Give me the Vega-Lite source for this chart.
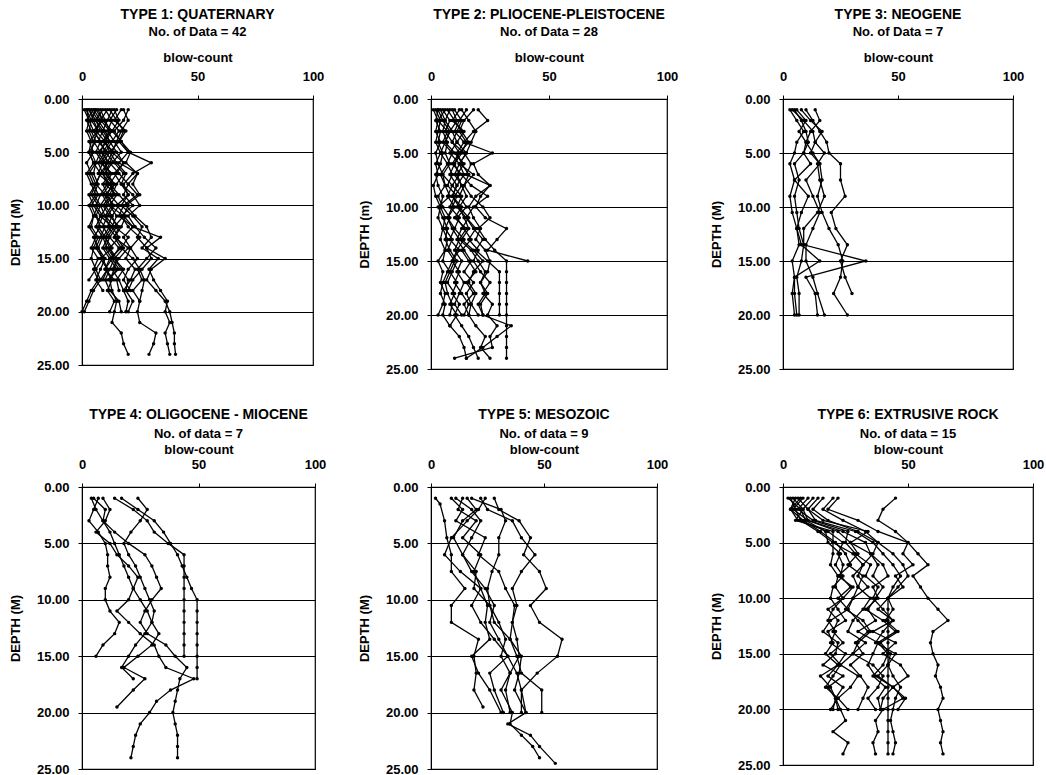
{
"$schema":"https://vega.github.io/schema/vega-lite/v6.json",
"background":"white",
"padding":{"left":8,"top":7,"right":5,"bottom":0},
"config":{
"view":{"stroke":"black","strokeWidth":1.2},
"font":"Liberation Sans",
"axis":{"domainColor":"black","tickColor":"black","tickSize":4,"labelFont":"Liberation Sans","labelFontWeight":"bold","labelFontSize":13,"labelColor":"black","titleFont":"Liberation Sans","titleFontWeight":"bold","titleFontSize":13,"titleColor":"black","labelFlush":false,"labelOverlap":false},
"title":{"font":"Liberation Sans","fontSize":14,"fontWeight":"bold","color":"black","subtitleFont":"Liberation Sans","subtitleFontSize":13,"subtitleFontWeight":"bold","subtitleColor":"black","anchor":"middle"},
"line":{"color":"black","strokeWidth":1.3}
},
"datasets":{
"p1":[
{"b":1,"d":1,"n":5},{"b":1,"d":2,"n":8},{"b":1,"d":3,"n":6},{"b":1,"d":4,"n":10},{"b":1,"d":5,"n":12},{"b":1,"d":6,"n":9},{"b":1,"d":7,"n":11},{"b":1,"d":8,"n":14},{"b":1,"d":9,"n":10},{"b":1,"d":10,"n":12},{"b":1,"d":11,"n":15},{"b":1,"d":12,"n":13},{"b":1,"d":13,"n":16},{"b":1,"d":14,"n":12},{"b":1,"d":15,"n":14},{"b":1,"d":16,"n":18},{"b":1,"d":17,"n":15},{"b":1,"d":18,"n":16},
{"b":2,"d":1,"n":2},{"b":2,"d":2,"n":4},{"b":2,"d":3,"n":3},{"b":2,"d":4,"n":5},{"b":2,"d":5,"n":4},{"b":2,"d":6,"n":6},{"b":2,"d":7,"n":3},{"b":2,"d":8,"n":5},{"b":2,"d":9,"n":7},{"b":2,"d":10,"n":4},{"b":2,"d":11,"n":6},{"b":2,"d":12,"n":8},{"b":2,"d":13,"n":5},{"b":2,"d":14,"n":7},{"b":2,"d":15,"n":9},{"b":2,"d":16,"n":6},{"b":2,"d":17,"n":8},{"b":2,"d":18,"n":5},{"b":2,"d":19,"n":3},{"b":2,"d":20,"n":1},
{"b":3,"d":1,"n":12},{"b":3,"d":2,"n":15},{"b":3,"d":3,"n":18},{"b":3,"d":4,"n":16},{"b":3,"d":5,"n":20},{"b":3,"d":6,"n":30},{"b":3,"d":7,"n":22},{"b":3,"d":8,"n":18},{"b":3,"d":9,"n":20},{"b":3,"d":10,"n":17},{"b":3,"d":11,"n":22},{"b":3,"d":12,"n":26},{"b":3,"d":13,"n":24},{"b":3,"d":14,"n":28},{"b":3,"d":15,"n":30},{"b":3,"d":16,"n":26},{"b":3,"d":17,"n":22},{"b":3,"d":18,"n":20},
{"b":4,"d":1,"n":8},{"b":4,"d":2,"n":10},{"b":4,"d":3,"n":12},{"b":4,"d":4,"n":9},{"b":4,"d":5,"n":14},{"b":4,"d":6,"n":12},{"b":4,"d":7,"n":16},{"b":4,"d":8,"n":20},{"b":4,"d":9,"n":24},{"b":4,"d":10,"n":18},{"b":4,"d":11,"n":16},{"b":4,"d":12,"n":22},{"b":4,"d":13,"n":34},{"b":4,"d":14,"n":28},{"b":4,"d":15,"n":36},{"b":4,"d":16,"n":30},{"b":4,"d":17,"n":28},{"b":4,"d":18,"n":32},{"b":4,"d":19,"n":36},{"b":4,"d":20,"n":38},{"b":4,"d":21,"n":39},{"b":4,"d":22,"n":40},{"b":4,"d":23,"n":40},{"b":4,"d":24,"n":40.5},
{"b":5,"d":1,"n":20},{"b":5,"d":2,"n":18},{"b":5,"d":3,"n":14},{"b":5,"d":4,"n":17},{"b":5,"d":5,"n":20},{"b":5,"d":6,"n":16},{"b":5,"d":7,"n":24},{"b":5,"d":8,"n":22},{"b":5,"d":9,"n":25},{"b":5,"d":10,"n":19},{"b":5,"d":11,"n":23},{"b":5,"d":12,"n":28},{"b":5,"d":13,"n":30},{"b":5,"d":14,"n":26},{"b":5,"d":15,"n":33},{"b":5,"d":16,"n":29},{"b":5,"d":17,"n":31},{"b":5,"d":18,"n":34},{"b":5,"d":19,"n":37},{"b":5,"d":20,"n":36},{"b":5,"d":21,"n":38},{"b":5,"d":22,"n":36},{"b":5,"d":23,"n":37},{"b":5,"d":24,"n":38},
{"b":6,"d":1,"n":3},{"b":6,"d":2,"n":6},{"b":6,"d":3,"n":9},{"b":6,"d":4,"n":7},{"b":6,"d":5,"n":11},{"b":6,"d":6,"n":8},{"b":6,"d":7,"n":13},{"b":6,"d":8,"n":10},{"b":6,"d":9,"n":15},{"b":6,"d":10,"n":12},{"b":6,"d":11,"n":18},{"b":6,"d":12,"n":14},{"b":6,"d":13,"n":20},{"b":6,"d":14,"n":17},{"b":6,"d":15,"n":22},{"b":6,"d":16,"n":25},{"b":6,"d":17,"n":27},{"b":6,"d":18,"n":26},{"b":6,"d":19,"n":25},{"b":6,"d":20,"n":24},{"b":6,"d":21,"n":25},{"b":6,"d":22,"n":32},{"b":6,"d":23,"n":31},{"b":6,"d":24,"n":29},
{"b":7,"d":1,"n":1},{"b":7,"d":2,"n":3},{"b":7,"d":3,"n":5},{"b":7,"d":4,"n":8},{"b":7,"d":5,"n":6},{"b":7,"d":6,"n":9},{"b":7,"d":7,"n":7},{"b":7,"d":8,"n":12},{"b":7,"d":9,"n":9},{"b":7,"d":10,"n":11},{"b":7,"d":11,"n":8},{"b":7,"d":12,"n":13},{"b":7,"d":13,"n":10},{"b":7,"d":14,"n":12},{"b":7,"d":15,"n":15},{"b":7,"d":16,"n":14},{"b":7,"d":17,"n":12},{"b":7,"d":18,"n":13},{"b":7,"d":19,"n":15},{"b":7,"d":20,"n":14},{"b":7,"d":21,"n":13},{"b":7,"d":22,"n":17},{"b":7,"d":23,"n":18},{"b":7,"d":24,"n":20},
{"b":8,"d":1,"n":6},{"b":8,"d":2,"n":4},{"b":8,"d":3,"n":7},{"b":8,"d":4,"n":3},{"b":8,"d":5,"n":5},{"b":8,"d":6,"n":2},{"b":8,"d":7,"n":4},{"b":8,"d":8,"n":6},{"b":8,"d":9,"n":3},{"b":8,"d":10,"n":5},{"b":8,"d":11,"n":8},{"b":8,"d":12,"n":6},{"b":8,"d":13,"n":9},{"b":8,"d":14,"n":7},{"b":8,"d":15,"n":10},{"b":8,"d":16,"n":8},{"b":8,"d":17,"n":6},{"b":8,"d":18,"n":9},
{"b":9,"d":1,"n":10},{"b":9,"d":2,"n":13},{"b":9,"d":3,"n":11},{"b":9,"d":4,"n":14},{"b":9,"d":5,"n":17},{"b":9,"d":6,"n":13},{"b":9,"d":7,"n":10},{"b":9,"d":8,"n":14},{"b":9,"d":9,"n":12},{"b":9,"d":10,"n":16},{"b":9,"d":11,"n":13},{"b":9,"d":12,"n":11},{"b":9,"d":13,"n":15},{"b":9,"d":14,"n":18},{"b":9,"d":15,"n":14},{"b":9,"d":16,"n":17},{"b":9,"d":17,"n":20},{"b":9,"d":18,"n":19},{"b":9,"d":19,"n":22},{"b":9,"d":20,"n":20},
{"b":10,"d":1,"n":15},{"b":10,"d":2,"n":12},{"b":10,"d":3,"n":16},{"b":10,"d":4,"n":13},{"b":10,"d":5,"n":10},{"b":10,"d":6,"n":14},{"b":10,"d":7,"n":18},{"b":10,"d":8,"n":15},{"b":10,"d":9,"n":13},{"b":10,"d":10,"n":9},{"b":10,"d":11,"n":12},{"b":10,"d":12,"n":16},{"b":10,"d":13,"n":14},{"b":10,"d":14,"n":17},{"b":10,"d":15,"n":12},{"b":10,"d":16,"n":10},{"b":10,"d":17,"n":13},{"b":10,"d":18,"n":11},{"b":10,"d":19,"n":14},{"b":10,"d":20,"n":12},
{"b":11,"d":1,"n":4},{"b":11,"d":2,"n":7},{"b":11,"d":3,"n":10},{"b":11,"d":4,"n":12},{"b":11,"d":5,"n":9},{"b":11,"d":6,"n":11},{"b":11,"d":7,"n":8},{"b":11,"d":8,"n":6},{"b":11,"d":9,"n":10},{"b":11,"d":10,"n":14},{"b":11,"d":11,"n":11},{"b":11,"d":12,"n":9},{"b":11,"d":13,"n":12},{"b":11,"d":14,"n":10},{"b":11,"d":15,"n":13},{"b":11,"d":16,"n":16},{"b":11,"d":17,"n":11},
{"b":12,"d":1,"n":18},{"b":12,"d":2,"n":20},{"b":12,"d":3,"n":17},{"b":12,"d":4,"n":15},{"b":12,"d":5,"n":13},{"b":12,"d":6,"n":18},{"b":12,"d":7,"n":15},{"b":12,"d":8,"n":12},{"b":12,"d":9,"n":16},{"b":12,"d":10,"n":20},{"b":12,"d":11,"n":18},{"b":12,"d":12,"n":22},{"b":12,"d":13,"n":18},{"b":12,"d":14,"n":21},{"b":12,"d":15,"n":24},{"b":12,"d":16,"n":20},{"b":12,"d":17,"n":18},{"b":12,"d":18,"n":21},
{"b":13,"d":1,"n":7},{"b":13,"d":2,"n":9},{"b":13,"d":3,"n":5},{"b":13,"d":4,"n":8},{"b":13,"d":5,"n":10},{"b":13,"d":6,"n":7},{"b":13,"d":7,"n":9},{"b":13,"d":8,"n":11},{"b":13,"d":9,"n":8},{"b":13,"d":10,"n":6},{"b":13,"d":11,"n":9},{"b":13,"d":12,"n":7},{"b":13,"d":13,"n":10},{"b":13,"d":14,"n":13},{"b":13,"d":15,"n":8},{"b":13,"d":16,"n":11},{"b":13,"d":17,"n":9},
{"b":14,"d":1,"n":2},{"b":14,"d":2,"n":3},{"b":14,"d":3,"n":2},{"b":14,"d":4,"n":4},{"b":14,"d":5,"n":3},{"b":14,"d":6,"n":5},{"b":14,"d":7,"n":2},{"b":14,"d":8,"n":4},{"b":14,"d":9,"n":6},{"b":14,"d":10,"n":3},{"b":14,"d":11,"n":5},{"b":14,"d":12,"n":4},{"b":14,"d":13,"n":7},{"b":14,"d":14,"n":5},{"b":14,"d":15,"n":4},{"b":14,"d":16,"n":6},{"b":14,"d":17,"n":3},
{"b":15,"d":1,"n":13},{"b":15,"d":2,"n":11},{"b":15,"d":3,"n":9},{"b":15,"d":4,"n":12},{"b":15,"d":5,"n":15},{"b":15,"d":6,"n":18},{"b":15,"d":7,"n":14},{"b":15,"d":8,"n":17},{"b":15,"d":9,"n":20},{"b":15,"d":10,"n":15},{"b":15,"d":11,"n":19},{"b":15,"d":12,"n":17},{"b":15,"d":13,"n":14},{"b":15,"d":14,"n":20},{"b":15,"d":15,"n":16},{"b":15,"d":16,"n":13},{"b":15,"d":17,"n":16},{"b":15,"d":18,"n":18},
{"b":16,"d":1,"n":9},{"b":16,"d":2,"n":6},{"b":16,"d":3,"n":8},{"b":16,"d":4,"n":11},{"b":16,"d":5,"n":7},{"b":16,"d":6,"n":10},{"b":16,"d":7,"n":12},{"b":16,"d":8,"n":9},{"b":16,"d":9,"n":11},{"b":16,"d":10,"n":13},{"b":16,"d":11,"n":10},{"b":16,"d":12,"n":14},{"b":16,"d":13,"n":11},{"b":16,"d":14,"n":9},{"b":16,"d":15,"n":12},{"b":16,"d":16,"n":15},{"b":16,"d":17,"n":12},
{"b":17,"d":1,"n":14},{"b":17,"d":2,"n":16},{"b":17,"d":3,"n":13},{"b":17,"d":4,"n":17},{"b":17,"d":5,"n":21},{"b":17,"d":6,"n":19},{"b":17,"d":7,"n":24},{"b":17,"d":8,"n":20},{"b":17,"d":9,"n":18},{"b":17,"d":10,"n":22},{"b":17,"d":11,"n":17},{"b":17,"d":12,"n":20},{"b":17,"d":13,"n":25},{"b":17,"d":14,"n":21},{"b":17,"d":15,"n":19},{"b":17,"d":16,"n":23},{"b":17,"d":17,"n":21},{"b":17,"d":18,"n":18},{"b":17,"d":19,"n":20},{"b":17,"d":20,"n":19},
{"b":18,"d":1,"n":5},{"b":18,"d":2,"n":2},{"b":18,"d":3,"n":4},{"b":18,"d":4,"n":6},{"b":18,"d":5,"n":3},{"b":18,"d":6,"n":5},{"b":18,"d":7,"n":8},{"b":18,"d":8,"n":6},{"b":18,"d":9,"n":4},{"b":18,"d":10,"n":7},{"b":18,"d":11,"n":5},{"b":18,"d":12,"n":3},{"b":18,"d":13,"n":6},{"b":18,"d":14,"n":4},{"b":18,"d":15,"n":7},{"b":18,"d":16,"n":5},{"b":18,"d":17,"n":7},{"b":18,"d":18,"n":4},{"b":18,"d":19,"n":2},{"b":18,"d":20,"n":0},
{"b":19,"d":1,"n":11},{"b":19,"d":2,"n":8},{"b":19,"d":3,"n":12},{"b":19,"d":4,"n":10},{"b":19,"d":5,"n":13},{"b":19,"d":6,"n":11},{"b":19,"d":7,"n":9},{"b":19,"d":8,"n":12},{"b":19,"d":9,"n":14},{"b":19,"d":10,"n":10},{"b":19,"d":11,"n":13},{"b":19,"d":12,"n":15},{"b":19,"d":13,"n":12},{"b":19,"d":14,"n":16},{"b":19,"d":15,"n":13},{"b":19,"d":16,"n":10},{"b":19,"d":17,"n":14},
{"b":20,"d":1,"n":17},{"b":20,"d":2,"n":14},{"b":20,"d":3,"n":19},{"b":20,"d":4,"n":16},{"b":20,"d":5,"n":12},{"b":20,"d":6,"n":15},{"b":20,"d":7,"n":19},{"b":20,"d":8,"n":17},{"b":20,"d":9,"n":22},{"b":20,"d":10,"n":25},{"b":20,"d":11,"n":20},{"b":20,"d":12,"n":23},{"b":20,"d":13,"n":27},{"b":20,"d":14,"n":32},{"b":20,"d":15,"n":28},{"b":20,"d":16,"n":24},{"b":20,"d":17,"n":26},{"b":20,"d":18,"n":22},{"b":20,"d":19,"n":25},
{"b":21,"d":1,"n":6},{"b":21,"d":2,"n":9},{"b":21,"d":3,"n":13},{"b":21,"d":4,"n":10},{"b":21,"d":5,"n":8},{"b":21,"d":6,"n":12},{"b":21,"d":7,"n":10},{"b":21,"d":8,"n":13},{"b":21,"d":9,"n":11},{"b":21,"d":10,"n":8},{"b":21,"d":11,"n":10},{"b":21,"d":12,"n":12},{"b":21,"d":13,"n":9},{"b":21,"d":14,"n":11},{"b":21,"d":15,"n":14},{"b":21,"d":16,"n":12},{"b":21,"d":17,"n":10},{"b":21,"d":18,"n":12},{"b":21,"d":19,"n":16},{"b":21,"d":20,"n":17},
{"b":22,"d":1,"n":3},{"b":22,"d":2,"n":5},{"b":22,"d":3,"n":7},{"b":22,"d":4,"n":5},{"b":22,"d":5,"n":8},{"b":22,"d":6,"n":6},{"b":22,"d":7,"n":5},{"b":22,"d":8,"n":7},{"b":22,"d":9,"n":5},{"b":22,"d":10,"n":8},{"b":22,"d":11,"n":6},{"b":22,"d":12,"n":10},{"b":22,"d":13,"n":8},{"b":22,"d":14,"n":6},{"b":22,"d":15,"n":9},{"b":22,"d":16,"n":11},{"b":22,"d":17,"n":8}
],
"p2":[
{"b":1,"d":1,"n":3},{"b":1,"d":2,"n":2},{"b":1,"d":3,"n":4},{"b":1,"d":4,"n":3},{"b":1,"d":5,"n":5},{"b":1,"d":6,"n":4},{"b":1,"d":7,"n":2},{"b":1,"d":8,"n":3},{"b":1,"d":9,"n":5},{"b":1,"d":10,"n":4},{"b":1,"d":11,"n":6},{"b":1,"d":12,"n":5},{"b":1,"d":13,"n":7},{"b":1,"d":14,"n":6},{"b":1,"d":15,"n":5},{"b":1,"d":16,"n":8},{"b":1,"d":17,"n":6},{"b":1,"d":18,"n":7},{"b":1,"d":19,"n":9},{"b":1,"d":20,"n":8},
{"b":2,"d":1,"n":8},{"b":2,"d":2,"n":6},{"b":2,"d":3,"n":9},{"b":2,"d":4,"n":11},{"b":2,"d":5,"n":8},{"b":2,"d":6,"n":12},{"b":2,"d":7,"n":10},{"b":2,"d":8,"n":13},{"b":2,"d":9,"n":15},{"b":2,"d":10,"n":12},{"b":2,"d":11,"n":14},{"b":2,"d":12,"n":16},{"b":2,"d":13,"n":13},{"b":2,"d":14,"n":18},{"b":2,"d":15,"n":22},{"b":2,"d":16,"n":18},{"b":2,"d":17,"n":16},{"b":2,"d":18,"n":19},{"b":2,"d":19,"n":17},{"b":2,"d":20,"n":16},
{"b":3,"d":1,"n":15},{"b":3,"d":2,"n":12},{"b":3,"d":3,"n":10},{"b":3,"d":4,"n":14},{"b":3,"d":5,"n":26},{"b":3,"d":6,"n":18},{"b":3,"d":7,"n":20},{"b":3,"d":8,"n":25},{"b":3,"d":9,"n":21},{"b":3,"d":10,"n":19},{"b":3,"d":11,"n":23},{"b":3,"d":12,"n":32},{"b":3,"d":13,"n":28},{"b":3,"d":14,"n":24},{"b":3,"d":15,"n":41},
{"b":4,"d":1,"n":5},{"b":4,"d":2,"n":8},{"b":4,"d":3,"n":6},{"b":4,"d":4,"n":9},{"b":4,"d":5,"n":12},{"b":4,"d":6,"n":10},{"b":4,"d":7,"n":8},{"b":4,"d":8,"n":11},{"b":4,"d":9,"n":9},{"b":4,"d":10,"n":13},{"b":4,"d":11,"n":10},{"b":4,"d":12,"n":15},{"b":4,"d":13,"n":12},{"b":4,"d":14,"n":17},{"b":4,"d":15,"n":20},{"b":4,"d":16,"n":23},{"b":4,"d":17,"n":21},{"b":4,"d":18,"n":24},{"b":4,"d":19,"n":21},{"b":4,"d":20,"n":22},{"b":4,"d":21,"n":34},{"b":4,"d":22,"n":28},{"b":4,"d":23,"n":22},{"b":4,"d":24,"n":15},
{"b":5,"d":1,"n":2},{"b":5,"d":2,"n":4},{"b":5,"d":3,"n":3},{"b":5,"d":4,"n":2},{"b":5,"d":5,"n":4},{"b":5,"d":6,"n":2},{"b":5,"d":7,"n":3},{"b":5,"d":8,"n":1},{"b":5,"d":9,"n":2},{"b":5,"d":10,"n":4},{"b":5,"d":11,"n":3},{"b":5,"d":12,"n":5},{"b":5,"d":13,"n":4},{"b":5,"d":14,"n":6},{"b":5,"d":15,"n":3},{"b":5,"d":16,"n":5},{"b":5,"d":17,"n":4},{"b":5,"d":18,"n":6},{"b":5,"d":19,"n":5},{"b":5,"d":20,"n":3},
{"b":6,"d":1,"n":10},{"b":6,"d":2,"n":13},{"b":6,"d":3,"n":11},{"b":6,"d":4,"n":9},{"b":6,"d":5,"n":14},{"b":6,"d":6,"n":17},{"b":6,"d":7,"n":15},{"b":6,"d":8,"n":25},{"b":6,"d":9,"n":19},{"b":6,"d":10,"n":16},{"b":6,"d":11,"n":18},{"b":6,"d":12,"n":21},{"b":6,"d":13,"n":19},{"b":6,"d":14,"n":23},{"b":6,"d":15,"n":25},{"b":6,"d":16,"n":24},{"b":6,"d":17,"n":21},{"b":6,"d":18,"n":23},{"b":6,"d":19,"n":20},{"b":6,"d":20,"n":22},
{"b":7,"d":1,"n":20},{"b":7,"d":2,"n":24},{"b":7,"d":3,"n":18},{"b":7,"d":4,"n":14},{"b":7,"d":5,"n":11},{"b":7,"d":6,"n":13},{"b":7,"d":7,"n":16},{"b":7,"d":8,"n":14},{"b":7,"d":9,"n":17},{"b":7,"d":10,"n":22},{"b":7,"d":11,"n":25},{"b":7,"d":12,"n":20},{"b":7,"d":13,"n":23},{"b":7,"d":14,"n":27},{"b":7,"d":15,"n":32},{"b":7,"d":16,"n":32},{"b":7,"d":17,"n":32},{"b":7,"d":18,"n":32},{"b":7,"d":19,"n":32},{"b":7,"d":20,"n":32},{"b":7,"d":21,"n":32},{"b":7,"d":22,"n":32},{"b":7,"d":23,"n":32},{"b":7,"d":24,"n":32},
{"b":8,"d":1,"n":6},{"b":8,"d":2,"n":3},{"b":8,"d":3,"n":7},{"b":8,"d":4,"n":5},{"b":8,"d":5,"n":9},{"b":8,"d":6,"n":7},{"b":8,"d":7,"n":4},{"b":8,"d":8,"n":6},{"b":8,"d":9,"n":3},{"b":8,"d":10,"n":5},{"b":8,"d":11,"n":8},{"b":8,"d":12,"n":6},{"b":8,"d":13,"n":9},{"b":8,"d":14,"n":7},{"b":8,"d":15,"n":10},{"b":8,"d":16,"n":8},{"b":8,"d":17,"n":11},{"b":8,"d":18,"n":9},{"b":8,"d":19,"n":12},{"b":8,"d":20,"n":10},{"b":8,"d":21,"n":13},{"b":8,"d":22,"n":16},{"b":8,"d":23,"n":18},{"b":8,"d":24,"n":20},
{"b":9,"d":1,"n":12},{"b":9,"d":2,"n":9},{"b":9,"d":3,"n":14},{"b":9,"d":4,"n":11},{"b":9,"d":5,"n":15},{"b":9,"d":6,"n":12},{"b":9,"d":7,"n":18},{"b":9,"d":8,"n":14},{"b":9,"d":9,"n":12},{"b":9,"d":10,"n":15},{"b":9,"d":11,"n":11},{"b":9,"d":12,"n":14},{"b":9,"d":13,"n":17},{"b":9,"d":14,"n":13},{"b":9,"d":15,"n":16},{"b":9,"d":16,"n":19},{"b":9,"d":17,"n":15},{"b":9,"d":18,"n":18},{"b":9,"d":19,"n":14},{"b":9,"d":20,"n":16},{"b":9,"d":21,"n":19},{"b":9,"d":22,"n":23},{"b":9,"d":23,"n":21},{"b":9,"d":24,"n":25},
{"b":10,"d":1,"n":4},{"b":10,"d":2,"n":6},{"b":10,"d":3,"n":5},{"b":10,"d":4,"n":7},{"b":10,"d":5,"n":6},{"b":10,"d":6,"n":8},{"b":10,"d":7,"n":5},{"b":10,"d":8,"n":9},{"b":10,"d":9,"n":7},{"b":10,"d":10,"n":10},{"b":10,"d":11,"n":7},{"b":10,"d":12,"n":9},{"b":10,"d":13,"n":12},{"b":10,"d":14,"n":10},{"b":10,"d":15,"n":13},{"b":10,"d":16,"n":11},{"b":10,"d":17,"n":14},{"b":10,"d":18,"n":12},{"b":10,"d":19,"n":10},{"b":10,"d":20,"n":13},
{"b":11,"d":1,"n":18},{"b":11,"d":2,"n":14},{"b":11,"d":3,"n":12},{"b":11,"d":4,"n":15},{"b":11,"d":5,"n":13},{"b":11,"d":6,"n":10},{"b":11,"d":7,"n":12},{"b":11,"d":8,"n":9},{"b":11,"d":9,"n":13},{"b":11,"d":10,"n":11},{"b":11,"d":11,"n":15},{"b":11,"d":12,"n":18},{"b":11,"d":13,"n":22},{"b":11,"d":14,"n":19},{"b":11,"d":15,"n":24},{"b":11,"d":16,"n":29},{"b":11,"d":17,"n":29},{"b":11,"d":18,"n":29},{"b":11,"d":19,"n":29},{"b":11,"d":20,"n":29},
{"b":12,"d":1,"n":1},{"b":12,"d":2,"n":3},{"b":12,"d":3,"n":2},{"b":12,"d":4,"n":4},{"b":12,"d":5,"n":2},{"b":12,"d":6,"n":3},{"b":12,"d":7,"n":5},{"b":12,"d":8,"n":6},{"b":12,"d":9,"n":8},{"b":12,"d":10,"n":3},{"b":12,"d":11,"n":5},{"b":12,"d":12,"n":7},{"b":12,"d":13,"n":6},{"b":12,"d":14,"n":8},{"b":12,"d":15,"n":11},{"b":12,"d":16,"n":9},{"b":12,"d":17,"n":7},{"b":12,"d":18,"n":10},{"b":12,"d":19,"n":8},{"b":12,"d":20,"n":11},{"b":12,"d":21,"n":8},{"b":12,"d":22,"n":12},{"b":12,"d":23,"n":14},{"b":12,"d":24,"n":15},
{"b":13,"d":1,"n":9},{"b":13,"d":2,"n":11},{"b":13,"d":3,"n":8},{"b":13,"d":4,"n":6},{"b":13,"d":5,"n":10},{"b":13,"d":6,"n":14},{"b":13,"d":7,"n":11},{"b":13,"d":8,"n":13},{"b":13,"d":9,"n":10},{"b":13,"d":10,"n":8},{"b":13,"d":11,"n":12},{"b":13,"d":12,"n":10},{"b":13,"d":13,"n":14},{"b":13,"d":14,"n":11},{"b":13,"d":15,"n":9},{"b":13,"d":16,"n":12},{"b":13,"d":17,"n":10},{"b":13,"d":18,"n":13},{"b":13,"d":19,"n":16},{"b":13,"d":20,"n":14},
{"b":14,"d":1,"n":7},{"b":14,"d":2,"n":10},{"b":14,"d":3,"n":13},{"b":14,"d":4,"n":16},{"b":14,"d":5,"n":12},{"b":14,"d":6,"n":9},{"b":14,"d":7,"n":13},{"b":14,"d":8,"n":17},{"b":14,"d":9,"n":24},{"b":14,"d":10,"n":18},{"b":14,"d":11,"n":15},{"b":14,"d":12,"n":19},{"b":14,"d":13,"n":16},{"b":14,"d":14,"n":20},{"b":14,"d":15,"n":18},{"b":14,"d":16,"n":21},{"b":14,"d":17,"n":25},{"b":14,"d":18,"n":22},{"b":14,"d":19,"n":26},{"b":14,"d":20,"n":24},{"b":14,"d":21,"n":28},{"b":14,"d":22,"n":25},{"b":14,"d":23,"n":26},{"b":14,"d":24,"n":10},
{"b":15,"d":1,"n":13},{"b":15,"d":2,"n":16},{"b":15,"d":3,"n":19},{"b":15,"d":4,"n":17},{"b":15,"d":5,"n":15},{"b":15,"d":6,"n":12},{"b":15,"d":7,"n":14},{"b":15,"d":8,"n":11},{"b":15,"d":9,"n":9},{"b":15,"d":10,"n":12},{"b":15,"d":11,"n":16},{"b":15,"d":12,"n":13},{"b":15,"d":13,"n":11},{"b":15,"d":14,"n":14},{"b":15,"d":15,"n":17},{"b":15,"d":16,"n":14},{"b":15,"d":17,"n":18},{"b":15,"d":18,"n":15},{"b":15,"d":19,"n":17},{"b":15,"d":20,"n":20},
{"b":16,"d":1,"n":3},{"b":16,"d":2,"n":5},{"b":16,"d":3,"n":8},{"b":16,"d":4,"n":6},{"b":16,"d":5,"n":4},{"b":16,"d":6,"n":7},{"b":16,"d":7,"n":9},{"b":16,"d":8,"n":7},{"b":16,"d":9,"n":11},{"b":16,"d":10,"n":9},{"b":16,"d":11,"n":7},{"b":16,"d":12,"n":10},{"b":16,"d":13,"n":8},{"b":16,"d":14,"n":12},{"b":16,"d":15,"n":9},{"b":16,"d":16,"n":7},{"b":16,"d":17,"n":5},{"b":16,"d":18,"n":4},{"b":16,"d":19,"n":6},{"b":16,"d":20,"n":5},{"b":16,"d":21,"n":8}
],
"p3":[
{"b":1,"d":1,"n":10},{"b":1,"d":2,"n":13},{"b":1,"d":3,"n":16},{"b":1,"d":4,"n":19},{"b":1,"d":5,"n":20},{"b":1,"d":6,"n":25},{"b":1,"d":7.5,"n":25},{"b":1,"d":9,"n":27},{"b":1,"d":10.5,"n":21},{"b":1,"d":12,"n":23},{"b":1,"d":13.5,"n":28},{"b":1,"d":15,"n":25},{"b":1,"d":16.5,"n":27},{"b":1,"d":18,"n":30},
{"b":2,"d":1,"n":14},{"b":2,"d":2,"n":16},{"b":2,"d":3,"n":12},{"b":2,"d":4,"n":10},{"b":2,"d":5,"n":13},{"b":2,"d":6,"n":16},{"b":2,"d":7.5,"n":17},{"b":2,"d":9,"n":15},{"b":2,"d":10.5,"n":17},{"b":2,"d":12,"n":20},{"b":2,"d":13.5,"n":24},{"b":2,"d":15,"n":26},{"b":2,"d":16.5,"n":25},{"b":2,"d":18,"n":22},{"b":2,"d":20,"n":28},
{"b":3,"d":1,"n":5},{"b":3,"d":2,"n":8},{"b":3,"d":3,"n":10},{"b":3,"d":4,"n":11},{"b":3,"d":5,"n":9},{"b":3,"d":6,"n":5},{"b":3,"d":7.5,"n":7},{"b":3,"d":9,"n":5},{"b":3,"d":10.5,"n":6},{"b":3,"d":12,"n":7},{"b":3,"d":13.5,"n":9},{"b":3,"d":15,"n":8},{"b":3,"d":16.5,"n":6},{"b":3,"d":18,"n":7},{"b":3,"d":20,"n":7},
{"b":4,"d":1,"n":3},{"b":4,"d":2,"n":6},{"b":4,"d":3,"n":9},{"b":4,"d":4,"n":6},{"b":4,"d":5,"n":5},{"b":4,"d":6,"n":3},{"b":4,"d":7.5,"n":5},{"b":4,"d":9,"n":3},{"b":4,"d":10.5,"n":4},{"b":4,"d":12,"n":6},{"b":4,"d":13.5,"n":7},{"b":4,"d":15,"n":4},{"b":4,"d":16.5,"n":5},{"b":4,"d":18,"n":4},{"b":4,"d":20,"n":5},
{"b":5,"d":1,"n":4},{"b":5,"d":2,"n":9},{"b":5,"d":3,"n":13},{"b":5,"d":4,"n":14},{"b":5,"d":5,"n":12},{"b":5,"d":6,"n":16},{"b":5,"d":7.5,"n":10},{"b":5,"d":9,"n":13},{"b":5,"d":10.5,"n":16},{"b":5,"d":12,"n":13},{"b":5,"d":13.5,"n":10},{"b":5,"d":15,"n":10},{"b":5,"d":16.5,"n":13},{"b":5,"d":18,"n":15},{"b":5,"d":20,"n":18},
{"b":6,"d":1,"n":8},{"b":6,"d":2,"n":12},{"b":6,"d":3,"n":17},{"b":6,"d":4,"n":14},{"b":6,"d":5,"n":18},{"b":6,"d":6,"n":15},{"b":6,"d":7.5,"n":16},{"b":6,"d":9,"n":18},{"b":6,"d":10.5,"n":15},{"b":6,"d":12,"n":9},{"b":6,"d":13.5,"n":9},{"b":6,"d":15,"n":36},{"b":6,"d":16.5,"n":10},{"b":6,"d":18,"n":14},{"b":6,"d":20,"n":15},
{"b":7,"d":1,"n":6},{"b":7,"d":2,"n":10},{"b":7,"d":3,"n":7},{"b":7,"d":4,"n":10},{"b":7,"d":5,"n":9},{"b":7,"d":6,"n":12},{"b":7,"d":7.5,"n":5},{"b":7,"d":9,"n":11},{"b":7,"d":10.5,"n":8},{"b":7,"d":12,"n":6},{"b":7,"d":13.5,"n":8},{"b":7,"d":15,"n":16},{"b":7,"d":16.5,"n":5},{"b":7,"d":18,"n":5},{"b":7,"d":20,"n":6}
],
"p4":[
{"b":1,"d":1,"n":17},{"b":1,"d":2,"n":24},{"b":1,"d":3,"n":31},{"b":1,"d":4,"n":35},{"b":1,"d":5,"n":38},{"b":1,"d":6,"n":41},{"b":1,"d":7,"n":43},{"b":1,"d":8,"n":45},{"b":1,"d":9,"n":47},{"b":1,"d":10,"n":49.4},{"b":1,"d":11,"n":49.4},{"b":1,"d":12,"n":49.4},{"b":1,"d":13,"n":49.4},{"b":1,"d":14,"n":49.4},{"b":1,"d":15,"n":49.4},{"b":1,"d":16,"n":49.4},{"b":1,"d":17,"n":49.4},
{"b":2,"d":1,"n":14},{"b":2,"d":2,"n":22},{"b":2,"d":3,"n":28},{"b":2,"d":4,"n":31},{"b":2,"d":5,"n":37},{"b":2,"d":6,"n":43.8},{"b":2,"d":7,"n":43.8},{"b":2,"d":8,"n":43.8},{"b":2,"d":9,"n":43.8},{"b":2,"d":10,"n":43.8},{"b":2,"d":11,"n":43.8},{"b":2,"d":12,"n":43.8},{"b":2,"d":13,"n":43.8},{"b":2,"d":14,"n":43.8},{"b":2,"d":15,"n":43.8},
{"b":3,"d":1,"n":5},{"b":3,"d":2,"n":10},{"b":3,"d":3,"n":9},{"b":3,"d":4,"n":14},{"b":3,"d":5,"n":20},{"b":3,"d":6,"n":27},{"b":3,"d":7,"n":30},{"b":3,"d":8,"n":32},{"b":3,"d":9,"n":34},{"b":3,"d":10,"n":30},{"b":3,"d":11,"n":27},{"b":3,"d":12,"n":25},{"b":3,"d":13,"n":28},{"b":3,"d":14,"n":36},{"b":3,"d":15,"n":40},{"b":3,"d":16,"n":45},{"b":3,"d":17,"n":42},{"b":3,"d":18,"n":41},{"b":3,"d":19,"n":40},{"b":3,"d":20,"n":39},{"b":3,"d":21,"n":40},{"b":3,"d":22,"n":41},{"b":3,"d":23,"n":41},{"b":3,"d":24,"n":41},
{"b":4,"d":1,"n":4},{"b":4,"d":2,"n":6},{"b":4,"d":3,"n":9},{"b":4,"d":4,"n":12},{"b":4,"d":5,"n":14},{"b":4,"d":6,"n":16},{"b":4,"d":7,"n":18},{"b":4,"d":8,"n":20},{"b":4,"d":9,"n":22},{"b":4,"d":10,"n":25},{"b":4,"d":11,"n":28},{"b":4,"d":12,"n":30},{"b":4,"d":13,"n":33},{"b":4,"d":14,"n":30},{"b":4,"d":15,"n":24},{"b":4,"d":16,"n":18},{"b":4,"d":17,"n":27},{"b":4,"d":18,"n":22},{"b":4,"d":19.5,"n":15},
{"b":5,"d":1,"n":7},{"b":5,"d":2,"n":5},{"b":5,"d":3,"n":3},{"b":5,"d":4,"n":7},{"b":5,"d":5,"n":10},{"b":5,"d":6,"n":11},{"b":5,"d":7,"n":11},{"b":5,"d":8,"n":12},{"b":5,"d":9,"n":10},{"b":5,"d":10,"n":10},{"b":5,"d":11,"n":12},{"b":5,"d":12,"n":16},{"b":5,"d":13,"n":14},{"b":5,"d":14,"n":9},{"b":5,"d":15,"n":6},
{"b":6,"d":1,"n":9},{"b":6,"d":2,"n":12},{"b":6,"d":3,"n":10},{"b":6,"d":4,"n":6},{"b":6,"d":5,"n":12},{"b":6,"d":6,"n":15},{"b":6,"d":7,"n":20},{"b":6,"d":8,"n":24},{"b":6,"d":9,"n":22},{"b":6,"d":10,"n":20},{"b":6,"d":11,"n":15},{"b":6,"d":12,"n":20},{"b":6,"d":13,"n":25},{"b":6,"d":14,"n":31},{"b":6,"d":15,"n":33},{"b":6,"d":16,"n":36},{"b":6,"d":17,"n":48},{"b":6,"d":18,"n":38},{"b":6,"d":19,"n":32},{"b":6,"d":20,"n":29},{"b":6,"d":21,"n":25},{"b":6,"d":22,"n":23},{"b":6,"d":23,"n":22},{"b":6,"d":24,"n":21},
{"b":7,"d":1,"n":24},{"b":7,"d":2,"n":28},{"b":7,"d":3,"n":25},{"b":7,"d":4,"n":21},{"b":7,"d":5,"n":18},{"b":7,"d":6,"n":20},{"b":7,"d":7,"n":23},{"b":7,"d":8,"n":25},{"b":7,"d":9,"n":27},{"b":7,"d":10,"n":29},{"b":7,"d":11,"n":31},{"b":7,"d":12,"n":30},{"b":7,"d":13,"n":27},{"b":7,"d":14,"n":23},{"b":7,"d":15,"n":20},{"b":7,"d":16,"n":17},{"b":7,"d":17,"n":22}
],
"p5":[
{"b":1,"d":1,"n":2},{"b":1,"d":1.5,"n":4},{"b":1,"d":3,"n":6},{"b":1,"d":4.5,"n":7},{"b":1,"d":6,"n":9},{"b":1,"d":7.5,"n":9},{"b":1,"d":9,"n":15},{"b":1,"d":10.5,"n":9},{"b":1,"d":12,"n":9},{"b":1,"d":13.5,"n":21},{"b":1,"d":15,"n":19},{"b":1,"d":16.5,"n":20},{"b":1,"d":18,"n":19},{"b":1,"d":19.5,"n":23},
{"b":2,"d":1,"n":14},{"b":2,"d":2,"n":12},{"b":2,"d":3,"n":20},{"b":2,"d":4.5,"n":14},{"b":2,"d":6,"n":22},{"b":2,"d":7.5,"n":19},{"b":2,"d":9,"n":22},{"b":2,"d":10.5,"n":25},{"b":2,"d":12,"n":24},{"b":2,"d":13.5,"n":26},{"b":2,"d":15,"n":18},{"b":2,"d":16.5,"n":21},{"b":2,"d":18,"n":26},{"b":2,"d":20,"n":31},
{"b":3,"d":1,"n":11},{"b":3,"d":2,"n":18},{"b":3,"d":3,"n":22},{"b":3,"d":4.5,"n":18},{"b":3,"d":6,"n":14},{"b":3,"d":7.5,"n":20},{"b":3,"d":9,"n":19},{"b":3,"d":10.5,"n":26},{"b":3,"d":12,"n":30},{"b":3,"d":13.5,"n":33},{"b":3,"d":15,"n":31},{"b":3,"d":16.5,"n":35},{"b":3,"d":18,"n":31},{"b":3,"d":20,"n":36},{"b":3,"d":21,"n":35},{"b":3,"d":22,"n":40},{"b":3,"d":23,"n":45},{"b":3,"d":24,"n":48},
{"b":4,"d":1,"n":18},{"b":4,"d":2,"n":31},{"b":4,"d":3,"n":33},{"b":4,"d":4.5,"n":30},{"b":4,"d":6,"n":30},{"b":4,"d":7.5,"n":27},{"b":4,"d":9,"n":25},{"b":4,"d":10.5,"n":26},{"b":4,"d":12,"n":28},{"b":4,"d":13.5,"n":35},{"b":4,"d":15,"n":40},{"b":4,"d":16.5,"n":39},{"b":4,"d":18,"n":37},{"b":4,"d":20,"n":42},
{"b":5,"d":1,"n":28},{"b":5,"d":2,"n":30},{"b":5,"d":3,"n":39},{"b":5,"d":4.5,"n":44},{"b":5,"d":6,"n":41},{"b":5,"d":7.5,"n":48},{"b":5,"d":9,"n":51},{"b":5,"d":10.5,"n":44},{"b":5,"d":12,"n":48},{"b":5,"d":13.5,"n":58},{"b":5,"d":15,"n":56},{"b":5,"d":16.5,"n":47},{"b":5,"d":18,"n":40},{"b":5,"d":20,"n":42},{"b":5,"d":21,"n":34},{"b":5,"d":22,"n":44},{"b":5,"d":23,"n":48},{"b":5,"d":24.5,"n":55},
{"b":6,"d":1,"n":22},{"b":6,"d":2,"n":25},{"b":6,"d":3,"n":36},{"b":6,"d":4.5,"n":40},{"b":6,"d":6,"n":46},{"b":6,"d":7.5,"n":40},{"b":6,"d":9,"n":36},{"b":6,"d":10.5,"n":38},{"b":6,"d":12,"n":36},{"b":6,"d":13.5,"n":35},{"b":6,"d":15,"n":38},{"b":6,"d":16.5,"n":40},{"b":6,"d":18,"n":49},{"b":6,"d":20,"n":49},
{"b":7,"d":1,"n":16},{"b":7,"d":2,"n":20},{"b":7,"d":3,"n":14},{"b":7,"d":4.5,"n":10},{"b":7,"d":6,"n":14},{"b":7,"d":7.5,"n":18},{"b":7,"d":9,"n":24},{"b":7,"d":10.5,"n":28},{"b":7,"d":12,"n":26},{"b":7,"d":13.5,"n":30},{"b":7,"d":15,"n":34},{"b":7,"d":16.5,"n":38},{"b":7,"d":18,"n":40},{"b":7,"d":20,"n":40},
{"b":8,"d":1,"n":9},{"b":8,"d":2,"n":14},{"b":8,"d":3,"n":11},{"b":8,"d":4.5,"n":24},{"b":8,"d":6,"n":21},{"b":8,"d":7.5,"n":30},{"b":8,"d":9,"n":33},{"b":8,"d":10.5,"n":37},{"b":8,"d":12,"n":36},{"b":8,"d":13.5,"n":38},{"b":8,"d":15,"n":39},{"b":8,"d":16.5,"n":35},{"b":8,"d":18,"n":33},{"b":8,"d":20,"n":35},
{"b":9,"d":1,"n":24},{"b":9,"d":2,"n":21},{"b":9,"d":3,"n":16},{"b":9,"d":4.5,"n":9},{"b":9,"d":6,"n":6},{"b":9,"d":7.5,"n":13},{"b":9,"d":9,"n":22},{"b":9,"d":10.5,"n":18},{"b":9,"d":12,"n":22},{"b":9,"d":13.5,"n":28},{"b":9,"d":15,"n":34},{"b":9,"d":16.5,"n":26},{"b":9,"d":18,"n":28},{"b":9,"d":20,"n":32}
],
"p6":[
{"b":1,"d":1,"n":3},{"b":1,"d":2,"n":5},{"b":1,"d":3,"n":7},{"b":1,"d":4,"n":14},{"b":1,"d":5,"n":20},{"b":1,"d":6,"n":20},{"b":1,"d":7,"n":19},{"b":1,"d":8,"n":22},{"b":1,"d":9,"n":21},{"b":1,"d":10,"n":24},{"b":1,"d":11,"n":20},{"b":1,"d":12,"n":18},{"b":1,"d":13,"n":21},{"b":1,"d":14,"n":19},{"b":1,"d":15,"n":25},{"b":1,"d":16,"n":22},{"b":1,"d":17,"n":18},{"b":1,"d":18,"n":24},{"b":1,"d":19,"n":21},{"b":1,"d":20,"n":22},
{"b":2,"d":1,"n":5},{"b":2,"d":2,"n":3},{"b":2,"d":3,"n":6},{"b":2,"d":4,"n":18},{"b":2,"d":5,"n":24},{"b":2,"d":6,"n":22},{"b":2,"d":7,"n":24},{"b":2,"d":8,"n":23},{"b":2,"d":9,"n":27},{"b":2,"d":10,"n":22},{"b":2,"d":11,"n":26},{"b":2,"d":12,"n":19},{"b":2,"d":13,"n":16},{"b":2,"d":14,"n":22},{"b":2,"d":15,"n":21},{"b":2,"d":16,"n":16},{"b":2,"d":17,"n":24},{"b":2,"d":18,"n":18},{"b":2,"d":19,"n":21},{"b":2,"d":20,"n":23},{"b":2,"d":21,"n":25},{"b":2,"d":22,"n":20},{"b":2,"d":23,"n":26},{"b":2,"d":24,"n":24},
{"b":3,"d":1,"n":8},{"b":3,"d":2,"n":4},{"b":3,"d":3,"n":10},{"b":3,"d":4,"n":22},{"b":3,"d":5,"n":27},{"b":3,"d":6,"n":30},{"b":3,"d":7,"n":26},{"b":3,"d":8,"n":32},{"b":3,"d":9,"n":30},{"b":3,"d":10,"n":28},{"b":3,"d":11,"n":25},{"b":3,"d":12,"n":32},{"b":3,"d":13,"n":35},{"b":3,"d":14,"n":30},{"b":3,"d":15,"n":28},{"b":3,"d":16,"n":36},{"b":3,"d":17,"n":40},{"b":3,"d":18,"n":38},{"b":3,"d":19,"n":34},{"b":3,"d":20,"n":37},
{"b":4,"d":1,"n":12},{"b":4,"d":2,"n":8},{"b":4,"d":3,"n":10},{"b":4,"d":4,"n":24},{"b":4,"d":5,"n":33},{"b":4,"d":6,"n":35},{"b":4,"d":7,"n":38},{"b":4,"d":8,"n":36},{"b":4,"d":9,"n":40},{"b":4,"d":10,"n":37},{"b":4,"d":11,"n":34},{"b":4,"d":12,"n":37},{"b":4,"d":13,"n":30},{"b":4,"d":14,"n":38},{"b":4,"d":15,"n":36},{"b":4,"d":16,"n":34},{"b":4,"d":17,"n":37},{"b":4,"d":18,"n":44},{"b":4,"d":19,"n":48},{"b":4,"d":20,"n":40},{"b":4,"d":21,"n":37},{"b":4,"d":22,"n":38},{"b":4,"d":23,"n":36},{"b":4,"d":24,"n":37},
{"b":5,"d":1,"n":6},{"b":5,"d":2,"n":10},{"b":5,"d":3,"n":13},{"b":5,"d":4,"n":29},{"b":5,"d":5,"n":36},{"b":5,"d":6,"n":40},{"b":5,"d":7,"n":44},{"b":5,"d":8,"n":47},{"b":5,"d":9,"n":44},{"b":5,"d":10,"n":42},{"b":5,"d":11,"n":42},{"b":5,"d":12,"n":42},{"b":5,"d":13,"n":42},{"b":5,"d":14,"n":42},{"b":5,"d":15,"n":42},{"b":5,"d":16,"n":42},{"b":5,"d":17,"n":42},{"b":5,"d":18,"n":42},{"b":5,"d":19,"n":42},{"b":5,"d":20,"n":42},{"b":5,"d":21,"n":42},{"b":5,"d":22,"n":42},{"b":5,"d":23,"n":42},{"b":5,"d":24,"n":42},
{"b":6,"d":1,"n":45},{"b":6,"d":2,"n":40},{"b":6,"d":3,"n":38},{"b":6,"d":4,"n":45},{"b":6,"d":5,"n":50},{"b":6,"d":6,"n":54},{"b":6,"d":7,"n":58},{"b":6,"d":8,"n":52},{"b":6,"d":9,"n":55},{"b":6,"d":10,"n":58},{"b":6,"d":11,"n":62},{"b":6,"d":12,"n":66},{"b":6,"d":13,"n":60},{"b":6,"d":14,"n":59},{"b":6,"d":15,"n":60},{"b":6,"d":16,"n":62},{"b":6,"d":17,"n":61},{"b":6,"d":18,"n":63},{"b":6,"d":19,"n":64},{"b":6,"d":20,"n":62},{"b":6,"d":21,"n":63},{"b":6,"d":22,"n":64},{"b":6,"d":23,"n":63},{"b":6,"d":24,"n":64},
{"b":7,"d":1,"n":20},{"b":7,"d":2,"n":16},{"b":7,"d":3,"n":24},{"b":7,"d":4,"n":33},{"b":7,"d":5,"n":38},{"b":7,"d":6,"n":44},{"b":7,"d":7,"n":48},{"b":7,"d":8,"n":50},{"b":7,"d":9,"n":46},{"b":7,"d":10,"n":42},{"b":7,"d":11,"n":44},{"b":7,"d":12,"n":41},{"b":7,"d":13,"n":46},{"b":7,"d":14,"n":39},{"b":7,"d":15,"n":43},{"b":7,"d":16,"n":42},{"b":7,"d":17,"n":44},{"b":7,"d":18,"n":47},{"b":7,"d":19,"n":45},{"b":7,"d":20,"n":44},{"b":7,"d":21,"n":43},{"b":7,"d":22,"n":44},{"b":7,"d":23,"n":45},{"b":7,"d":24,"n":44},
{"b":8,"d":1,"n":2},{"b":8,"d":2,"n":7},{"b":8,"d":3,"n":9},{"b":8,"d":4,"n":17},{"b":8,"d":5,"n":18},{"b":8,"d":6,"n":23},{"b":8,"d":7,"n":21},{"b":8,"d":8,"n":24},{"b":8,"d":9,"n":20},{"b":8,"d":10,"n":19},{"b":8,"d":11,"n":22},{"b":8,"d":12,"n":25},{"b":8,"d":13,"n":18},{"b":8,"d":14,"n":20},{"b":8,"d":15,"n":17},{"b":8,"d":16,"n":22},{"b":8,"d":17,"n":15},{"b":8,"d":18,"n":19},{"b":8,"d":19,"n":21},{"b":8,"d":20,"n":20},
{"b":9,"d":1,"n":16},{"b":9,"d":2,"n":12},{"b":9,"d":3,"n":18},{"b":9,"d":4,"n":30},{"b":9,"d":5,"n":38},{"b":9,"d":6,"n":36},{"b":9,"d":7,"n":32},{"b":9,"d":8,"n":30},{"b":9,"d":9,"n":34},{"b":9,"d":10,"n":28},{"b":9,"d":11,"n":26},{"b":9,"d":12,"n":30},{"b":9,"d":13,"n":34},{"b":9,"d":14,"n":29},{"b":9,"d":15,"n":32},{"b":9,"d":16,"n":27},{"b":9,"d":17,"n":31},{"b":9,"d":18,"n":34},{"b":9,"d":19,"n":32},{"b":9,"d":20,"n":30},
{"b":10,"d":1,"n":10},{"b":10,"d":2,"n":6},{"b":10,"d":3,"n":12},{"b":10,"d":4,"n":26},{"b":10,"d":5,"n":25},{"b":10,"d":6,"n":29},{"b":10,"d":7,"n":35},{"b":10,"d":8,"n":33},{"b":10,"d":9,"n":38},{"b":10,"d":10,"n":36},{"b":10,"d":11,"n":40},{"b":10,"d":12,"n":44},{"b":10,"d":13,"n":40},{"b":10,"d":14,"n":37},{"b":10,"d":15,"n":45},{"b":10,"d":16,"n":42},{"b":10,"d":17,"n":38},{"b":10,"d":18,"n":44},{"b":10,"d":19,"n":40},{"b":10,"d":20,"n":39},
{"b":11,"d":1,"n":4},{"b":11,"d":2,"n":8},{"b":11,"d":3,"n":5},{"b":11,"d":4,"n":20},{"b":11,"d":5,"n":20},{"b":11,"d":6,"n":28},{"b":11,"d":7,"n":32},{"b":11,"d":8,"n":28},{"b":11,"d":9,"n":30},{"b":11,"d":10,"n":35},{"b":11,"d":11,"n":32},{"b":11,"d":12,"n":28},{"b":11,"d":13,"n":26},{"b":11,"d":14,"n":33},{"b":11,"d":15,"n":28},{"b":11,"d":16,"n":23},{"b":11,"d":17,"n":30},{"b":11,"d":18,"n":27},{"b":11,"d":19,"n":22},{"b":11,"d":20,"n":26},
{"b":12,"d":1,"n":22},{"b":12,"d":2,"n":18},{"b":12,"d":3,"n":30},{"b":12,"d":4,"n":38},{"b":12,"d":5,"n":50},{"b":12,"d":6,"n":48},{"b":12,"d":7,"n":52},{"b":12,"d":8,"n":45},{"b":12,"d":9,"n":48},{"b":12,"d":10,"n":42},{"b":12,"d":11,"n":38},{"b":12,"d":12,"n":44},{"b":12,"d":13,"n":36},{"b":12,"d":14,"n":45},{"b":12,"d":15,"n":40},{"b":12,"d":16,"n":47},{"b":12,"d":17,"n":50},{"b":12,"d":18,"n":44},{"b":12,"d":19,"n":49},{"b":12,"d":20,"n":46},
{"b":13,"d":1,"n":7},{"b":13,"d":2,"n":3},{"b":13,"d":3,"n":8},{"b":13,"d":4,"n":15},{"b":13,"d":5,"n":21},{"b":13,"d":6,"n":25},{"b":13,"d":7,"n":27},{"b":13,"d":8,"n":22},{"b":13,"d":9,"n":28},{"b":13,"d":10,"n":24},{"b":13,"d":11,"n":18},{"b":13,"d":12,"n":22},{"b":13,"d":13,"n":20},{"b":13,"d":14,"n":24},{"b":13,"d":15,"n":19},{"b":13,"d":16,"n":23},{"b":13,"d":17,"n":20},{"b":13,"d":18,"n":17},{"b":13,"d":19,"n":22},{"b":13,"d":20,"n":19},
{"b":14,"d":1,"n":14},{"b":14,"d":2,"n":10},{"b":14,"d":3,"n":16},{"b":14,"d":4,"n":34},{"b":14,"d":5,"n":27},{"b":14,"d":6,"n":35},{"b":14,"d":7,"n":40},{"b":14,"d":8,"n":42},{"b":14,"d":9,"n":36},{"b":14,"d":10,"n":38},{"b":14,"d":11,"n":33},{"b":14,"d":12,"n":40},{"b":14,"d":13,"n":45},{"b":14,"d":14,"n":38},{"b":14,"d":15,"n":42},{"b":14,"d":16,"n":40},{"b":14,"d":17,"n":36},{"b":14,"d":18,"n":41},{"b":14,"d":19,"n":38},{"b":14,"d":20,"n":39}
]
},
"columns":3,
"align":"none",
"bounds":"flush",
"spacing":{"row":118,"column":116},
"concat":[
{"width":231,"height":266,"data":{"name":"p1"},
"title":{"text":"TYPE 1: QUATERNARY","subtitle":"No. of Data = 42","subtitlePadding":4,"offset":12},
"mark":{"type":"line","color":"black","strokeWidth":1.3,"point":{"filled":true,"size":12,"color":"black"}},
"encoding":{
"x":{"field":"n","type":"quantitative","scale":{"domain":[0,100],"nice":false},"axis":{"orient":"top","title":"blow-count","values":[0,50,100],"grid":false,"labelPadding":12,"titlePadding":6}},
"y":{"field":"d","type":"quantitative","scale":{"domain":[0,25],"reverse":true,"nice":false,"zero":false},"axis":{"title":"DEPTH (M)","values":[0,5,10,15,20,25],"format":".2f","grid":true,"gridColor":"black","gridOpacity":1,"gridWidth":1,"labelPadding":9,"titlePadding":14}},
"detail":{"field":"b","type":"nominal"},
"order":{"field":"d","type":"quantitative"}}},
{"width":236,"height":270,"data":{"name":"p2"},
"title":{"text":"TYPE 2: PLIOCENE-PLEISTOCENE","subtitle":"No. of Data = 28","subtitlePadding":4,"offset":12},
"mark":{"type":"line","color":"black","strokeWidth":1.3,"point":{"filled":true,"size":12,"color":"black"}},
"encoding":{
"x":{"field":"n","type":"quantitative","scale":{"domain":[0,100],"nice":false},"axis":{"orient":"top","title":"blow-count","values":[0,50,100],"grid":false,"labelPadding":12,"titlePadding":6}},
"y":{"field":"d","type":"quantitative","scale":{"domain":[0,25],"reverse":true,"nice":false,"zero":false},"axis":{"title":"DEPTH (m)","values":[0,5,10,15,20,25],"format":".2f","grid":true,"gridColor":"black","gridOpacity":1,"gridWidth":1,"labelPadding":9,"titlePadding":14}},
"detail":{"field":"b","type":"nominal"},
"order":{"field":"d","type":"quantitative"}}},
{"width":230,"height":270,"data":{"name":"p3"},
"title":{"text":"TYPE 3: NEOGENE","subtitle":"No. of Data = 7","subtitlePadding":4,"offset":12},
"mark":{"type":"line","color":"black","strokeWidth":1.3,"point":{"filled":true,"size":12,"color":"black"}},
"encoding":{
"x":{"field":"n","type":"quantitative","scale":{"domain":[0,100],"nice":false},"axis":{"orient":"top","title":"blow-count","values":[0,50,100],"grid":false,"labelPadding":12,"titlePadding":6}},
"y":{"field":"d","type":"quantitative","scale":{"domain":[0,25],"reverse":true,"nice":false,"zero":false},"axis":{"title":"DEPTH (M)","values":[0,5,10,15,20,25],"format":".2f","grid":true,"gridColor":"black","gridOpacity":1,"gridWidth":1,"labelPadding":9,"titlePadding":14}},
"detail":{"field":"b","type":"nominal"},
"order":{"field":"d","type":"quantitative"}}},
{"width":233,"height":282,"data":{"name":"p4"},
"title":{"text":"TYPE 4: OLIGOCENE - MIOCENE","subtitle":"No. of data = 7","subtitlePadding":6,"offset":2},
"mark":{"type":"line","color":"black","strokeWidth":1.3,"point":{"filled":true,"size":12,"color":"black"}},
"encoding":{
"x":{"field":"n","type":"quantitative","scale":{"domain":[0,100],"nice":false},"axis":{"orient":"top","title":"blow-count","values":[0,50,100],"grid":false,"labelPadding":12,"titlePadding":2}},
"y":{"field":"d","type":"quantitative","scale":{"domain":[0,25],"reverse":true,"nice":false,"zero":false},"axis":{"title":"DEPTH (M)","values":[0,5,10,15,20,25],"format":".2f","grid":true,"gridColor":"black","gridOpacity":1,"gridWidth":1,"labelPadding":9,"titlePadding":14}},
"detail":{"field":"b","type":"nominal"},
"order":{"field":"d","type":"quantitative"}}},
{"width":226,"height":282,"data":{"name":"p5"},
"title":{"text":"TYPE 5: MESOZOIC","subtitle":"No. of data = 9","subtitlePadding":6,"offset":2},
"mark":{"type":"line","color":"black","strokeWidth":1.3,"point":{"filled":true,"size":12,"color":"black"}},
"encoding":{
"x":{"field":"n","type":"quantitative","scale":{"domain":[0,100],"nice":false},"axis":{"orient":"top","title":"blow-count","values":[0,50,100],"grid":false,"labelPadding":12,"titlePadding":2}},
"y":{"field":"d","type":"quantitative","scale":{"domain":[0,25],"reverse":true,"nice":false,"zero":false},"axis":{"title":"DEPTH (M)","values":[0,5,10,15,20,25],"format":".2f","grid":true,"gridColor":"black","gridOpacity":1,"gridWidth":1,"labelPadding":9,"titlePadding":14}},
"detail":{"field":"b","type":"nominal"},
"order":{"field":"d","type":"quantitative"}}},
{"width":250,"height":278,"data":{"name":"p6"},
"title":{"text":"TYPE 6: EXTRUSIVE ROCK","subtitle":"No. of data = 15","subtitlePadding":6,"offset":2},
"mark":{"type":"line","color":"black","strokeWidth":1.3,"point":{"filled":true,"size":12,"color":"black"}},
"encoding":{
"x":{"field":"n","type":"quantitative","scale":{"domain":[0,100],"nice":false},"axis":{"orient":"top","title":"blow-count","values":[0,50,100],"grid":false,"labelPadding":12,"titlePadding":2}},
"y":{"field":"d","type":"quantitative","scale":{"domain":[0,25],"reverse":true,"nice":false,"zero":false},"axis":{"title":"DEPTH (M)","values":[0,5,10,15,20,25],"format":".2f","grid":true,"gridColor":"black","gridOpacity":1,"gridWidth":1,"labelPadding":9,"titlePadding":14}},
"detail":{"field":"b","type":"nominal"},
"order":{"field":"d","type":"quantitative"}}}
]
}
